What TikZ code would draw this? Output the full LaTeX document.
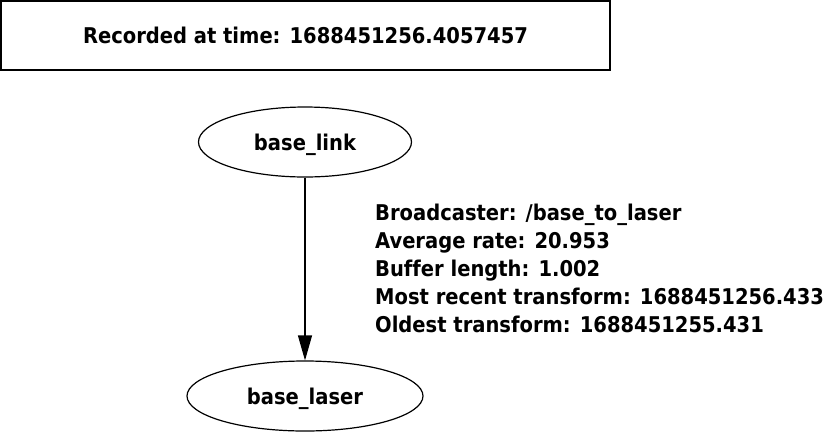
\documentclass[tikz,border=0pt]{standalone}
\usepackage{fontspec}
\setmainfont{DejaVu Sans Condensed}[BoldFont={DejaVu Sans Condensed Bold},Ligatures=NoCommon]
\usetikzlibrary{shapes.geometric,arrows.meta}
\begin{document}
\begin{tikzpicture}[x=1pt,y=-1pt,
  frame/.style={draw,ellipse,line width=1.2pt,inner sep=0pt,text depth=0pt},
  lbl/.style={font=\fontsize{21.7}{28}\selectfont\bfseries},
  every node/.style={text=black}]
\useasboundingbox (0,0) rectangle (823,432);
\node[draw,line width=1.2pt,minimum width=609pt,minimum height=69pt,inner sep=0pt,text depth=0pt,lbl] (hdr) at (305.5,35.5) {Recorded at time: 1688451256.4057457};
\node[frame,minimum width=213pt,minimum height=70pt,lbl] (bl) at (305,142) {base\_link};
\node[frame,minimum width=236pt,minimum height=70pt,lbl] (bs) at (305,396) {base\_laser};
\draw[line width=1.2pt,-{Triangle[length=25pt,width=14pt]}] (bl) -- (bs);
\node[lbl,anchor=north west,align=left,inner sep=0pt] (info) at (375,204) {Broadcaster: /base\_to\_laser\\Average rate: 20.953\\Buffer length: 1.002\\Most recent transform: 1688451256.433\\Oldest transform: 1688451255.431};
\end{tikzpicture}
\end{document}
